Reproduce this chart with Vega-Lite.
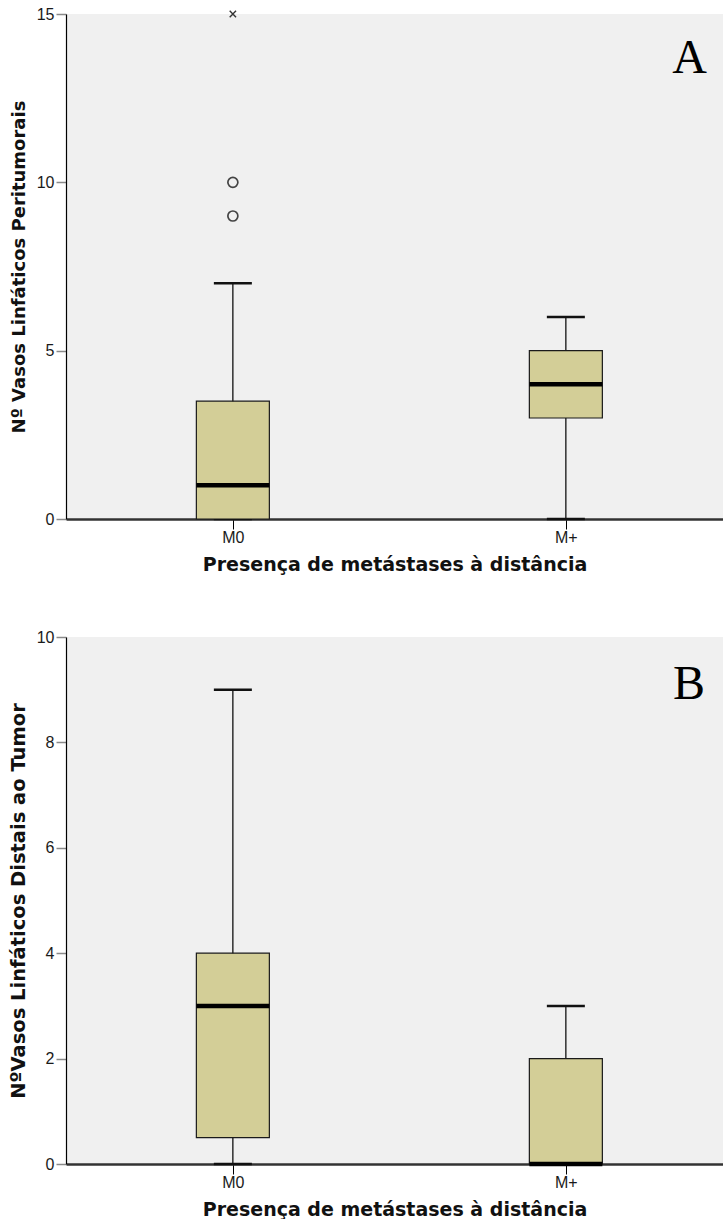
{
  "$schema": "https://vega.github.io/schema/vega-lite/v6.json",
  "padding": {"left": 8, "top": 6, "right": 0, "bottom": 0},
  "background": "#ffffff",
  "datasets": {
    "peritumorais": [
      {"grupo": "M0", "min": 0, "q1": 0, "mediana": 1, "q3": 3.5, "max": 7},
      {"grupo": "M+", "min": 0, "q1": 3, "mediana": 4, "q3": 5, "max": 6}
    ],
    "peritumorais_atipicos": [
      {"grupo": "M0", "valor": 9, "tipo": "atípico"},
      {"grupo": "M0", "valor": 10, "tipo": "atípico"},
      {"grupo": "M0", "valor": 15, "tipo": "extremo"}
    ],
    "distais": [
      {"grupo": "M0", "min": 0, "q1": 0.5, "mediana": 3, "q3": 4, "max": 9},
      {"grupo": "M+", "min": 0, "q1": 0, "mediana": 0, "q3": 2, "max": 3}
    ]
  },
  "config": {
    "view": {"fill": "#f0f0f0", "stroke": null},
    "tick": {"opacity": 1},
    "axis": {
      "grid": false,
      "labelFont": "Liberation Sans",
      "labelFontSize": 16,
      "labelColor": "#1a1a1a",
      "titleFont": "DejaVu Sans",
      "titleFontWeight": "bold",
      "titleFontSize": 18,
      "titleColor": "#111111",
      "tickSize": 10
    },
    "axisY": {
      "domainColor": "#000000",
      "domainWidth": 1.2,
      "tickColor": "#8a8a8a",
      "tickWidth": 1.5,
      "labelPadding": 2,
      "titlePadding": 8
    },
    "axisX": {
      "domainColor": "#333333",
      "domainWidth": 2.5,
      "tickColor": "#000000",
      "tickWidth": 1,
      "labelPadding": 0,
      "labelAngle": 0,
      "titlePadding": 10,
      "titleFontSize": 19
    },
    "title": {
      "font": "Liberation Serif",
      "fontSize": 48,
      "fontWeight": "normal",
      "color": "#000000",
      "anchor": "end",
      "frame": "group",
      "baseline": "alphabetic"
    }
  },
  "spacing": 55,
  "vconcat": [
    {
      "width": 657,
      "height": 505,
      "title": {"text": "A", "offset": -77, "dx": -16},
      "encoding": {
        "x": {
          "field": "grupo",
          "type": "nominal",
          "sort": ["M0", "M+"],
          "scale": {"type": "point", "domain": ["M0", "M+"], "padding": 0.4865, "align": 0.515},
          "axis": {"title": "Presença de metástases à distância"}
        }
      },
      "layer": [
        {
          "data": {"name": "peritumorais"},
          "mark": {"type": "rule", "color": "#111111", "strokeWidth": 1.3},
          "encoding": {
            "y": {
              "field": "min",
              "type": "quantitative",
              "title": "Nº Vasos Linfáticos Peritumorais",
              "scale": {"domain": [0, 15], "nice": false, "zero": true},
              "axis": {"values": [0, 5, 10, 15]}
            },
            "y2": {"field": "max"}
          }
        },
        {
          "data": {"name": "peritumorais"},
          "mark": {"type": "tick", "orient": "horizontal", "size": 38, "thickness": 2.5, "color": "#111111"},
          "encoding": {"y": {"field": "min", "type": "quantitative", "title": "Nº Vasos Linfáticos Peritumorais"}}
        },
        {
          "data": {"name": "peritumorais"},
          "mark": {"type": "tick", "orient": "horizontal", "size": 38, "thickness": 2.5, "color": "#111111"},
          "encoding": {"y": {"field": "max", "type": "quantitative", "title": "Nº Vasos Linfáticos Peritumorais"}}
        },
        {
          "data": {"name": "peritumorais"},
          "mark": {"type": "bar", "size": 73, "fill": "#d3ce97", "stroke": "#1a1a1a", "strokeWidth": 1.2},
          "encoding": {
            "y": {"field": "q1", "type": "quantitative", "title": "Nº Vasos Linfáticos Peritumorais"},
            "y2": {"field": "q3"}
          }
        },
        {
          "data": {"name": "peritumorais"},
          "mark": {"type": "tick", "orient": "horizontal", "size": 73, "thickness": 4.5, "color": "#000000"},
          "encoding": {"y": {"field": "mediana", "type": "quantitative", "title": "Nº Vasos Linfáticos Peritumorais"}}
        },
        {
          "data": {"name": "peritumorais_atipicos"},
          "transform": [{"filter": "datum.tipo === 'atípico'"}],
          "mark": {"type": "point", "shape": "circle", "filled": false, "size": 100, "stroke": "#444444", "strokeWidth": 1.7, "opacity": 1},
          "encoding": {"y": {"field": "valor", "type": "quantitative", "title": "Nº Vasos Linfáticos Peritumorais"}}
        },
        {
          "data": {"name": "peritumorais_atipicos"},
          "transform": [{"filter": "datum.tipo === 'extremo'"}],
          "mark": {"type": "point", "shape": "M-1,-1L1,1M-1,1L1,-1", "filled": false, "size": 40, "stroke": "#333333", "strokeWidth": 1.4, "opacity": 1},
          "encoding": {"y": {"field": "valor", "type": "quantitative", "title": "Nº Vasos Linfáticos Peritumorais"}}
        },
        {
          "mark": {"type": "rule", "color": "#6e6e6e", "strokeWidth": 2},
          "encoding": {"y": {"datum": 15, "type": "quantitative", "title": "Nº Vasos Linfáticos Peritumorais"}}
        }
      ]
    },
    {
      "width": 657,
      "height": 527,
      "title": {"text": "B", "offset": -80, "dx": -18},
      "encoding": {
        "x": {
          "field": "grupo",
          "type": "nominal",
          "sort": ["M0", "M+"],
          "scale": {"type": "point", "domain": ["M0", "M+"], "padding": 0.4865, "align": 0.515},
          "axis": {"title": "Presença de metástases à distância"}
        }
      },
      "layer": [
        {
          "data": {"name": "distais"},
          "mark": {"type": "rule", "color": "#111111", "strokeWidth": 1.3},
          "encoding": {
            "y": {
              "field": "min",
              "type": "quantitative",
              "title": "NºVasos Linfáticos Distais ao Tumor",
              "scale": {"domain": [0, 10], "nice": false, "zero": true},
              "axis": {"values": [0, 2, 4, 6, 8, 10], "titleFontSize": 19.5}
            },
            "y2": {"field": "max"}
          }
        },
        {
          "data": {"name": "distais"},
          "mark": {"type": "tick", "orient": "horizontal", "size": 38, "thickness": 2.5, "color": "#111111"},
          "encoding": {"y": {"field": "min", "type": "quantitative", "title": "NºVasos Linfáticos Distais ao Tumor"}}
        },
        {
          "data": {"name": "distais"},
          "mark": {"type": "tick", "orient": "horizontal", "size": 38, "thickness": 2.5, "color": "#111111"},
          "encoding": {"y": {"field": "max", "type": "quantitative", "title": "NºVasos Linfáticos Distais ao Tumor"}}
        },
        {
          "data": {"name": "distais"},
          "mark": {"type": "bar", "size": 73, "fill": "#d3ce97", "stroke": "#1a1a1a", "strokeWidth": 1.2},
          "encoding": {
            "y": {"field": "q1", "type": "quantitative", "title": "NºVasos Linfáticos Distais ao Tumor"},
            "y2": {"field": "q3"}
          }
        },
        {
          "data": {"name": "distais"},
          "mark": {"type": "tick", "orient": "horizontal", "size": 73, "thickness": 4.5, "color": "#000000"},
          "encoding": {"y": {"field": "mediana", "type": "quantitative", "title": "NºVasos Linfáticos Distais ao Tumor"}}
        },
        {
          "mark": {"type": "rule", "color": "#6e6e6e", "strokeWidth": 2},
          "encoding": {"y": {"datum": 10, "type": "quantitative", "title": "NºVasos Linfáticos Distais ao Tumor"}}
        }
      ]
    }
  ]
}
